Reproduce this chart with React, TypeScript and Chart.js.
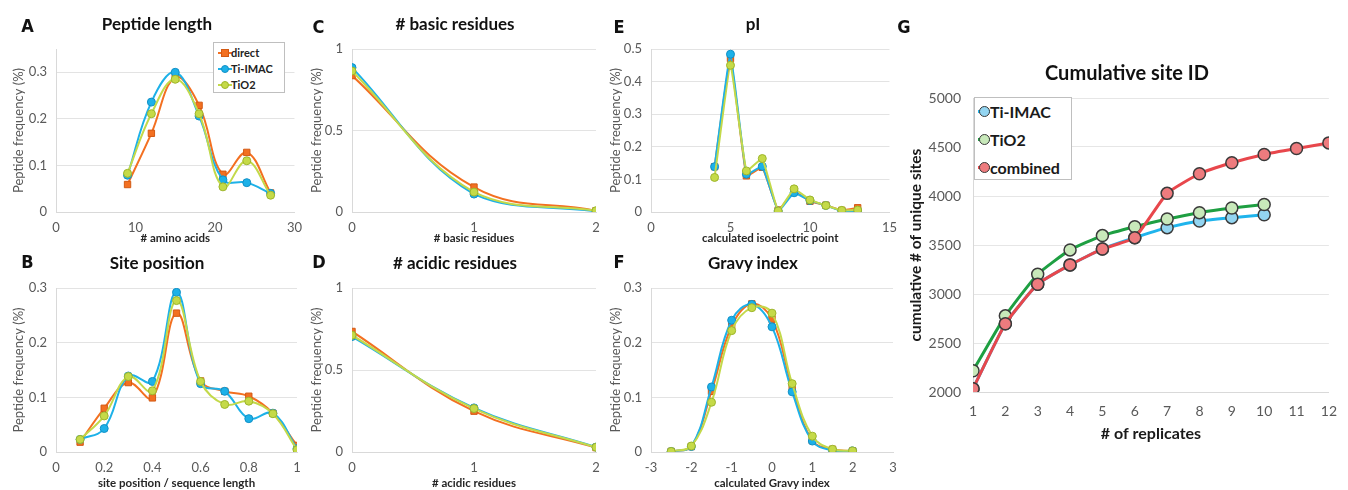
import React, { useEffect, useRef } from "react";
import { Chart, registerables } from "chart.js";
Chart.register(...registerables);

const FONT = "Lato, 'Open Sans', sans-serif";
const LETTER_FONT = "'Liberation Sans Narrow', 'DejaVu Sans Condensed', sans-serif";

// ---- Panel A: Peptide length ----
const lengthX = [9, 12, 15, 18, 21, 24, 27];
const lengthDirect = [0.059, 0.169, 0.289, 0.229, 0.081, 0.128, 0.041];
const lengthTiIMAC = [0.079, 0.236, 0.3, 0.206, 0.069, 0.063, 0.04];
const lengthTiO2 = [0.083, 0.211, 0.285, 0.211, 0.054, 0.11, 0.036];

// ---- Panel B: Site position ----
const siteX = [0.1, 0.2, 0.3, 0.4, 0.5, 0.6, 0.7, 0.8, 0.9, 1.0];
const siteDirect = [0.018, 0.08, 0.127, 0.099, 0.254, 0.13, 0.111, 0.102, 0.071, 0.012];
const siteTiIMAC = [0.023, 0.043, 0.139, 0.129, 0.292, 0.125, 0.111, 0.061, 0.071, 0.006];
const siteTiO2 = [0.023, 0.066, 0.138, 0.112, 0.277, 0.129, 0.087, 0.093, 0.07, 0.004];

// ---- Panel C: # basic residues ----
const basicX = [0, 1, 2];
const basicDirect = [0.837, 0.153, 0.008];
const basicTiIMAC = [0.886, 0.11, 0.004];
const basicTiO2 = [0.865, 0.122, 0.008];

// ---- Panel D: # acidic residues ----
const acidicX = [0, 1, 2];
const acidicDirect = [0.735, 0.249, 0.027];
const acidicTiIMAC = [0.704, 0.269, 0.03];
const acidicTiO2 = [0.712, 0.265, 0.029];

// ---- Panel E: pI ----
const piX = [4, 5, 6, 7, 8, 9, 10, 11, 12, 13];
const piDirect = [0.139, 0.471, 0.111, 0.137, 0.006, 0.063, 0.033, 0.021, 0.005, 0.013];
const piTiIMAC = [0.139, 0.484, 0.116, 0.14, 0.003, 0.059, 0.035, 0.02, 0.003, 0.003];
const piTiO2 = [0.106, 0.45, 0.126, 0.164, 0.003, 0.071, 0.037, 0.02, 0.005, 0.006];

// ---- Panel F: Gravy index ----
const gravyX = [-2.5, -2, -1.5, -1, -0.5, 0, 0.5, 1, 1.5, 2];
const gravyDirect = [0.001, 0.01, 0.111, 0.23, 0.271, 0.243, 0.119, 0.021, 0.005, 0.002];
const gravyTiIMAC = [0.001, 0.01, 0.119, 0.241, 0.27, 0.229, 0.11, 0.02, 0.003, 0.002];
const gravyTiO2 = [0.001, 0.011, 0.091, 0.222, 0.264, 0.254, 0.125, 0.029, 0.005, 0.002];

// ---- Panel G: Cumulative site ID ----
const replicatesTiIMAC = [1, 2, 3, 4, 5, 6, 7, 8, 9, 10];
const replicatesTiO2 = [1, 2, 3, 4, 5, 6, 7, 8, 9, 10];
const replicatesCombined = [1, 2, 3, 4, 5, 6, 7, 8, 9, 10, 11, 12];
const cumTiIMAC = [2034, 2696, 3100, 3297, 3460, 3575, 3677, 3745, 3779, 3809];
const cumTiO2 = [2217, 2777, 3202, 3450, 3596, 3687, 3765, 3830, 3877, 3914];
const cumCombined = [2034, 2696, 3100, 3297, 3460, 3575, 4027, 4227, 4339, 4424, 4485, 4542];

const C_DIRECT = { line: "#F37021", fill: "#F37021", border: "#D35A14" };
const C_TIIMAC = { line: "#1DB1E8", fill: "#1DB1E8", border: "#1290C6" };
const C_TIO2 = { line: "#C3D94A", fill: "#C5DA48", border: "#9DB52C" };

const G_BLUE = { line: "#1FB4EC", fill: "#93D5F1" };
const G_GREEN = { line: "#1E9F42", fill: "#C8E9BA" };
const G_RED = { line: "#E8474C", fill: "#EE7B7E" };

const pts = (xs: number[], ys: number[]) => xs.map((x, i) => ({ x, y: ys[i] }));
const fmt = (v: any) => String(Math.round(Number(v) * 1000) / 1000);

type SmallSpec = {
  xs: number[];
  d: number[];
  t: number[];
  o: number[];
  xMin: number;
  xMax: number;
  xStep: number;
  yMax: number;
  yStep: number;
  xTitle: string;
  yAxisW: number;
  xAxisH: number;
  padTop: number;
  padRight: number;
  yTitlePad: number;
  tension: number;
};

function smallConfig(s: SmallSpec): any {
  const ds = (label: string, ys: number[], c: any, style: string, order: number, r: number) => ({
    label,
    data: pts(s.xs, ys),
    borderColor: c.line,
    backgroundColor: c.fill,
    pointBackgroundColor: c.fill,
    pointBorderColor: c.border,
    pointBorderWidth: 1,
    pointStyle: style,
    pointRadius: r,
    pointHoverRadius: r,
    borderWidth: 2,
    tension: s.tension,
    order,
  });
  return {
    type: "line",
    data: {
      datasets: [
        ds("direct", s.d, C_DIRECT, "rect", 3, 4.5),
        ds("Ti-IMAC", s.t, C_TIIMAC, "circle", 2, 4),
        ds("TiO2", s.o, C_TIO2, "circle", 1, 4),
      ],
    },
    options: {
      animation: false,
      responsive: false,
      maintainAspectRatio: false,
      layout: { padding: { top: s.padTop, right: s.padRight, left: 0, bottom: 0 } },
      plugins: { legend: { display: false }, tooltip: { enabled: false }, title: { display: false } },
      scales: {
        x: {
          type: "linear",
          min: s.xMin,
          max: s.xMax,
          ticks: {
            stepSize: s.xStep,
            color: "#595959",
            font: { family: FONT, size: 13 },
            padding: 8,
            maxRotation: 0,
            callback: fmt,
          },
          grid: { display: false, drawTicks: false },
          border: { display: true, color: "#D9D9D9", width: 1 },
          title: {
            display: true,
            text: s.xTitle,
            color: "#262626",
            font: { family: FONT, size: 11.5, weight: "bold" },
            padding: { top: 0, bottom: 0 },
          },
          afterFit: (sc: any) => {
            sc.height = s.xAxisH;
          },
        },
        y: {
          type: "linear",
          min: 0,
          max: s.yMax,
          ticks: {
            stepSize: s.yStep,
            color: "#595959",
            font: { family: FONT, size: 13 },
            padding: 9,
            includeBounds: false,
            callback: fmt,
          },
          grid: { color: "#E3E3E3", drawTicks: false },
          border: { display: true, color: "#D9D9D9", width: 1 },
          title: {
            display: true,
            text: "Peptide frequency (%)",
            color: "#595959",
            font: { family: FONT, size: 13 },
            padding: { top: s.yTitlePad, bottom: 0 },
          },
          afterFit: (sc: any) => {
            sc.width = s.yAxisW;
          },
        },
      },
    },
  };
}

function cumulativeConfig(): any {
  const ds = (label: string, xs: number[], ys: number[], c: any, order: number) => ({
    label,
    data: pts(xs, ys),
    borderColor: c.line,
    backgroundColor: c.fill,
    pointBackgroundColor: c.fill,
    pointBorderColor: "#3A3A3A",
    pointBorderWidth: 1.5,
    pointStyle: "circle",
    pointRadius: 6,
    pointHoverRadius: 6,
    borderWidth: 3,
    tension: 0.15,
    order,
  });
  return {
    type: "line",
    data: {
      datasets: [
        ds("Ti-IMAC", replicatesTiIMAC, cumTiIMAC, G_BLUE, 3),
        ds("TiO2", replicatesTiO2, cumTiO2, G_GREEN, 2),
        ds("combined", replicatesCombined, cumCombined, G_RED, 1),
      ],
    },
    options: {
      animation: false,
      responsive: false,
      maintainAspectRatio: false,
      layout: { padding: { top: 58, right: 9, left: 0, bottom: 0 } },
      plugins: { legend: { display: false }, tooltip: { enabled: false }, title: { display: false } },
      scales: {
        x: {
          type: "linear",
          min: 1,
          max: 12,
          ticks: {
            stepSize: 1,
            color: "#595959",
            font: { family: FONT, size: 14 },
            padding: 11,
            maxRotation: 0,
            callback: fmt,
          },
          grid: { display: false, drawTicks: false },
          border: { display: true, color: "#D9D9D9", width: 1 },
          title: {
            display: true,
            text: "# of replicates",
            color: "#1A1A1A",
            font: { family: FONT, size: 16, weight: "bold" },
            padding: { top: 0, bottom: 7 },
          },
          afterFit: (sc: any) => {
            sc.height = 58;
          },
        },
        y: {
          type: "linear",
          min: 2000,
          max: 5000,
          ticks: {
            stepSize: 500,
            color: "#595959",
            font: { family: FONT, size: 14 },
            padding: 12,
            callback: fmt,
          },
          grid: { color: "#E6E6E6", drawTicks: false },
          border: { display: true, color: "#D9D9D9", width: 1 },
          title: {
            display: true,
            text: "cumulative # of unique sites",
            color: "#1A1A1A",
            font: { family: FONT, size: 15.5, weight: "bold" },
            padding: { top: 12, bottom: 0 },
          },
          afterFit: (sc: any) => {
            sc.width = 78;
          },
        },
      },
    },
  };
}

function ChartCanvas(props: { left: number; top: number; width: number; height: number; make: () => any }) {
  const ref = useRef<HTMLCanvasElement>(null);
  useEffect(() => {
    const chart = new Chart(ref.current as HTMLCanvasElement, props.make());
    return () => chart.destroy();
  }, []);
  return (
    <canvas
      ref={ref}
      width={props.width}
      height={props.height}
      style={{ position: "absolute", left: props.left, top: props.top, width: props.width, height: props.height }}
    />
  );
}

function Label(props: { x: number; y: number; text: string; size: number; family?: string; weight?: any; color?: string }) {
  return (
    <div
      style={{
        position: "absolute",
        left: props.x,
        top: props.y,
        transform: "translate(-50%, -50%)",
        whiteSpace: "nowrap",
        fontFamily: props.family || FONT,
        fontSize: props.size,
        fontWeight: props.weight || "bold",
        color: props.color || "#111",
        lineHeight: 1,
      }}
    >
      {props.text}
    </div>
  );
}

function SmallLegend() {
  const rows = [
    { label: "direct", c: C_DIRECT, shape: "square" },
    { label: "Ti-IMAC", c: C_TIIMAC, shape: "circle" },
    { label: "TiO2", c: C_TIO2, shape: "circle" },
  ];
  return (
    <div
      style={{
        position: "absolute",
        left: 213,
        top: 42,
        width: 72,
        height: 51,
        border: "1px solid #BFBFBF",
        background: "#fff",
        boxSizing: "border-box",
      }}
    >
      {rows.map((r, i) => (
        <div key={r.label} style={{ position: "absolute", left: 0, top: 3 + i * 16, height: 14, width: 70 }}>
          <div style={{ position: "absolute", left: 4, top: 6, width: 14, height: 2, background: r.c.line }} />
          <div
            style={{
              position: "absolute",
              left: 7,
              top: 3,
              width: 8,
              height: 8,
              boxSizing: "border-box",
              background: r.c.fill,
              border: "1px solid " + r.c.border,
              borderRadius: r.shape === "circle" ? "50%" : 0,
            }}
          />
          <div
            style={{
              position: "absolute",
              left: 17,
              top: 0,
              fontFamily: FONT,
              fontWeight: "bold",
              fontSize: 11,
              lineHeight: "14px",
              color: "#222",
              whiteSpace: "nowrap",
            }}
          >
            {r.label}
          </div>
        </div>
      ))}
    </div>
  );
}

function BigLegend() {
  const rows = [
    { label: "Ti-IMAC", c: G_BLUE },
    { label: "TiO2", c: G_GREEN },
    { label: "combined", c: G_RED },
  ];
  return (
    <div
      style={{
        position: "absolute",
        left: 974,
        top: 97,
        width: 98,
        height: 83,
        border: "1px solid #BFBFBF",
        background: "#fff",
        boxSizing: "border-box",
      }}
    >
      {rows.map((r, i) => (
        <div key={r.label} style={{ position: "absolute", left: 0, top: 4 + i * 28, height: 20, width: 96 }}>
          <div style={{ position: "absolute", left: 3, top: 8, width: 12, height: 3, background: r.c.line }} />
          <div
            style={{
              position: "absolute",
              left: 4,
              top: 4,
              width: 11,
              height: 11,
              boxSizing: "border-box",
              background: r.c.fill,
              border: "1.5px solid #3A3A3A",
              borderRadius: "50%",
            }}
          />
          <div
            style={{
              position: "absolute",
              left: 15,
              top: 0,
              fontFamily: FONT,
              fontWeight: "bold",
              fontSize: 16,
              lineHeight: "20px",
              color: "#1A1A1A",
              whiteSpace: "nowrap",
            }}
          >
            {r.label}
          </div>
        </div>
      ))}
    </div>
  );
}

export default function App() {
  return (
    <div style={{ position: "absolute", left: 0, top: 0, width: 1348, height: 490, background: "#fff", overflow: "hidden" }}>
      <ChartCanvas
        left={0}
        top={0}
        width={310}
        height={245}
        make={() =>
          smallConfig({
            xs: lengthX, d: lengthDirect, t: lengthTiIMAC, o: lengthTiO2,
            xMin: 0, xMax: 30, xStep: 10, yMax: 0.35, yStep: 0.1,
            xTitle: "# amino acids", yAxisW: 56, xAxisH: 33, padTop: 49, padRight: 15, yTitlePad: 11, tension: 0.4,
          })
        }
      />
      <ChartCanvas
        left={0}
        top={245}
        width={310}
        height={245}
        make={() =>
          smallConfig({
            xs: siteX, d: siteDirect, t: siteTiIMAC, o: siteTiO2,
            xMin: 0, xMax: 1, xStep: 0.2, yMax: 0.3, yStep: 0.1,
            xTitle: "site position / sequence length", yAxisW: 56, xAxisH: 38, padTop: 43, padRight: 13, yTitlePad: 11, tension: 0.4,
          })
        }
      />
      <ChartCanvas
        left={300}
        top={0}
        width={310}
        height={245}
        make={() =>
          smallConfig({
            xs: basicX, d: basicDirect, t: basicTiIMAC, o: basicTiO2,
            xMin: 0, xMax: 2, xStep: 1, yMax: 1, yStep: 0.5,
            xTitle: "# basic residues", yAxisW: 52, xAxisH: 33, padTop: 49, padRight: 14, yTitlePad: 9, tension: 0.4,
          })
        }
      />
      <ChartCanvas
        left={300}
        top={245}
        width={310}
        height={245}
        make={() =>
          smallConfig({
            xs: acidicX, d: acidicDirect, t: acidicTiIMAC, o: acidicTiO2,
            xMin: 0, xMax: 2, xStep: 1, yMax: 1, yStep: 0.5,
            xTitle: "# acidic residues", yAxisW: 52, xAxisH: 38, padTop: 43, padRight: 14, yTitlePad: 9, tension: 0.4,
          })
        }
      />
      <ChartCanvas
        left={600}
        top={0}
        width={305}
        height={245}
        make={() =>
          smallConfig({
            xs: piX, d: piDirect, t: piTiIMAC, o: piTiO2,
            xMin: 0, xMax: 15, xStep: 5, yMax: 0.5, yStep: 0.1,
            xTitle: "calculated isoelectric point", yAxisW: 51, xAxisH: 33, padTop: 49, padRight: 14, yTitlePad: 8, tension: 0.1,
          })
        }
      />
      <ChartCanvas
        left={600}
        top={245}
        width={305}
        height={245}
        make={() =>
          smallConfig({
            xs: gravyX, d: gravyDirect, t: gravyTiIMAC, o: gravyTiO2,
            xMin: -3, xMax: 3, xStep: 1, yMax: 0.3, yStep: 0.1,
            xTitle: "calculated Gravy index", yAxisW: 51, xAxisH: 38, padTop: 43, padRight: 12, yTitlePad: 8, tension: 0.4,
          })
        }
      />
      <ChartCanvas left={895} top={40} width={453} height={410} make={cumulativeConfig} />

      <SmallLegend />
      <BigLegend />

      <Label x={157} y={23} text="Peptide length" size={17} />
      <Label x={157} y={262} text="Site position" size={17} />
      <Label x={455} y={23} text="# basic residues" size={17} />
      <Label x={455} y={262} text="# acidic residues" size={17} />
      <Label x={753} y={23} text="pI" size={17} />
      <Label x={753} y={262} text="Gravy index" size={17} />
      <Label x={1127} y={72} text="Cumulative site ID" size={20} />

      <Label x={27.5} y={25.5} text="A" size={18} family={LETTER_FONT} />
      <Label x={27.5} y={261.5} text="B" size={18} family={LETTER_FONT} />
      <Label x={318.5} y={26.5} text="C" size={18} family={LETTER_FONT} />
      <Label x={319} y={261.5} text="D" size={18} family={LETTER_FONT} />
      <Label x={619} y={26.5} text="E" size={18} family={LETTER_FONT} />
      <Label x={619} y={261.5} text="F" size={18} family={LETTER_FONT} />
      <Label x={904} y={27} text="G" size={18} family={LETTER_FONT} />
    </div>
  );
}
